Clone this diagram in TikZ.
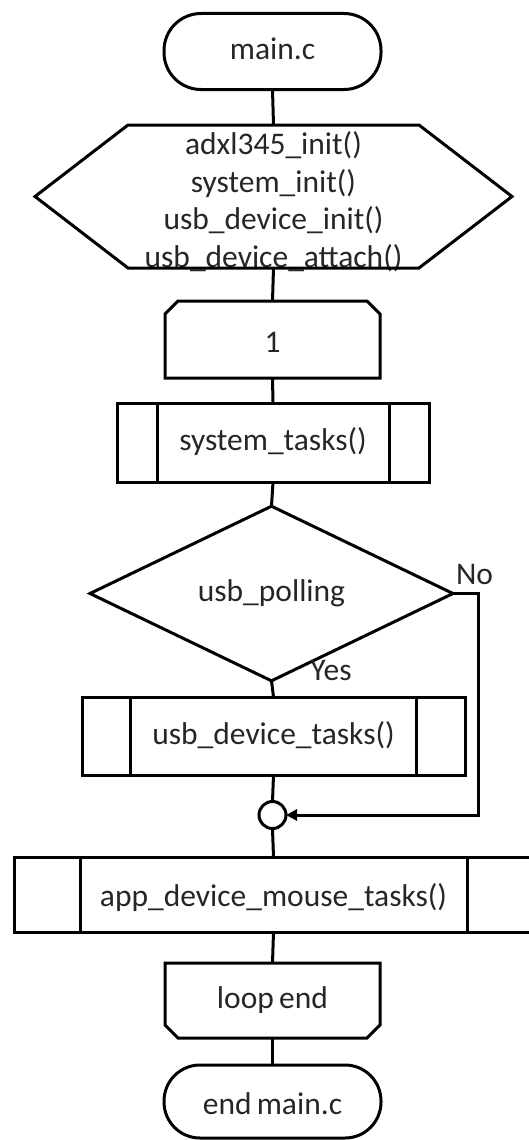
\documentclass[tikz,border=0pt]{standalone}
\usepackage{fontspec}
\setmainfont{Carlito}
\usetikzlibrary{shapes.geometric,arrows.meta,calc}
\begin{document}
\begin{tikzpicture}[x=1pt,y=-1pt,
  line width=3pt,
  every node/.style={font=\fontsize{31.5}{37.5}\selectfont, text=black!85, inner sep=0pt, outer sep=0pt},
  fixtext/.style={text height=22pt, text depth=6pt},
  termbox/.style={draw, rectangle, rounded corners=37pt, minimum width=217pt, minimum height=76pt, fixtext},
  plainbox/.style={draw=none, rectangle, fixtext},
  procbox/.style={draw, rectangle, fixtext},
  decbox/.style={draw, diamond, minimum width=363pt, minimum height=147pt},
  joinpt/.style={draw, circle, minimum size=27pt},
  lbl/.style={font=\fontsize{31.5}{37.5}\selectfont},
  flowarrow/.style={-{Triangle[length=11pt,width=11pt]}}
]
\useasboundingbox (0,0) rectangle (528,1140);

% start terminal
\node[termbox] (start) at (272.5,51.5) {main.c};

% init hexagon
\node[draw=none, rectangle, minimum width=477pt, minimum height=143pt] (init) at (273.5,196.5) {};
\node[align=center] (inittext) at ([yshift=-5pt]init.center) {adxl345\_init()\\system\_init()\\usb\_device\_init()\\usb\_device\_attach()};
\draw[fill=none] ($(init.north west)+(93,0)$) -- ($(init.north east)+(-93,0)$) -- (init.east) -- ($(init.south east)+(-93,0)$) -- ($(init.south west)+(93,0)$) -- (init.west) -- cycle;

% loop start
\node[plainbox, minimum width=215pt, minimum height=77pt] (loop) at (272.5,339.5) {\raisebox{-5pt}{1}};
\draw ($(loop.north west)+(13,0)$) -- ($(loop.north east)+(-13,0)$) -- ($(loop.north east)+(0,13)$) -- (loop.south east) -- (loop.south west) -- ($(loop.north west)+(0,13)$) -- cycle;

% system_tasks
\node[procbox, minimum width=312pt, minimum height=79pt] (sys) at (273,442.5) {system\_tasks()};
\draw ($(sys.north west)+(40,0)$) -- ($(sys.south west)+(40,0)$);
\draw ($(sys.north east)+(-40,0)$) -- ($(sys.south east)+(-40,0)$);

% decision
\node[decbox] (poll) at (271.5,593.5) {\raisebox{-4pt}{usb\_polling}};

% usb_device_tasks
\node[procbox, minimum width=383pt, minimum height=78pt] (usbt) at (273.5,736) {usb\_device\_tasks()};
\draw ($(usbt.north west)+(48,0)$) -- ($(usbt.south west)+(48,0)$);
\draw ($(usbt.north east)+(-49,0)$) -- ($(usbt.south east)+(-49,0)$);

% join circle
\node[joinpt] (join) at (272.5,815) {};

% app_device_mouse_tasks
\node[procbox, minimum width=519pt, minimum height=75pt] (app) at (273.5,894.5) {\raisebox{-4pt}{app\_device\_mouse\_tasks()}};
\draw ($(app.north west)+(66,0)$) -- ($(app.south west)+(66,0)$);
\draw ($(app.north east)+(-66,0)$) -- ($(app.south east)+(-66,0)$);

% loop end
\node[plainbox, minimum width=215pt, minimum height=75pt] (lend) at (272.5,1000.5) {loop\,end};
\draw (lend.north west) -- (lend.north east) -- ($(lend.south east)+(0,-13)$) -- ($(lend.south east)+(-13,0)$) -- ($(lend.south west)+(13,0)$) -- ($(lend.south west)+(0,-13)$) -- cycle;

% end terminal
\node[termbox, minimum height=73pt, rounded corners=36pt] (stop) at (272.5,1101.5) {\raisebox{-5pt}{end\,main.c}};

% connectors
\draw (start.south) -- (init.north);
\draw (init.south) -- (loop.north);
\draw (loop.south) -- (sys.north);
\draw (sys.south) -- (poll.north);
\draw (poll.south) -- (usbt.north);
\draw (usbt.south) -- (join.north);
\draw[flowarrow] (poll.east) -- ++(25,0) coordinate (noturn) |- (join.east);
\draw (join.south) -- (app.north);
\draw (app.south) -- (lend.north);
\draw (lend.south) -- (stop.north);

% labels
\node[lbl] (yes) at (331,671) {Yes};
\node[lbl] (no) at (474.5,574) {No};
\end{tikzpicture}
\end{document}
